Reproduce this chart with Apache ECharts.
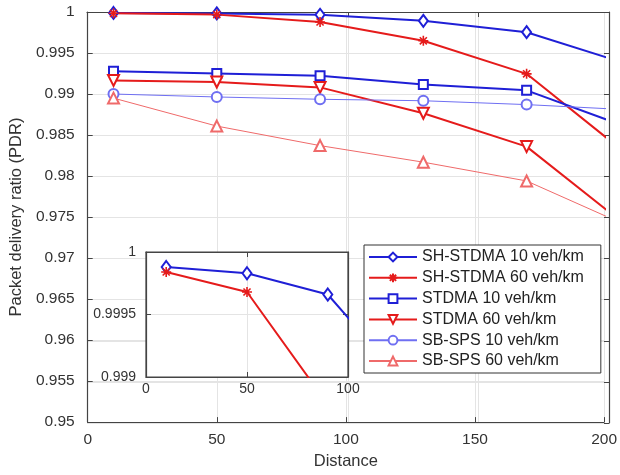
<!DOCTYPE html>
<html>
<head>
<meta charset="utf-8">
<script src="https://cdn.jsdelivr.net/npm/echarts@6/dist/echarts.min.js"></script>
<style>html,body{margin:0;padding:0;background:#fff}#c{width:620px;height:475px}</style>
</head>
<body>
<div id="c"></div>
<script>
const distance = [10, 50, 90, 130, 170, 210];
const shStdma10 = [0.99988, 0.99983, 0.99966, 0.99892, 0.99754, 0.99357];
const shStdma60 = [0.99984, 0.99968, 0.99878, 0.99649, 0.99246, 0.98238];
const stdma10 = [0.99278, 0.99250, 0.99222, 0.99117, 0.99045, 0.98585];
const stdma60 = [0.99166, 0.99146, 0.99081, 0.98766, 0.98359, 0.97360];
const sbSps10 = [0.99000, 0.98964, 0.98936, 0.98918, 0.98871, 0.98807];
const sbSps60 = [0.98950, 0.98609, 0.98371, 0.98169, 0.97940, 0.97380];
const seriesNames = ['SH-STDMA 10 veh/km', 'SH-STDMA 60 veh/km', 'STDMA 10 veh/km', 'STDMA 60 veh/km', 'SB-SPS 10 veh/km', 'SB-SPS 60 veh/km'];

const BLUE = '#1f1fd6', RED = '#e51b1b', LBLUE = '#6f6ff2', LRED = '#ef6a6a';
const AX = '#444444', GRIDC = '#e4e4e4', TXT = '#333333';
const FONT = 'Liberation Sans';
const STAR = 'path://M0,-10L0,10M-10,0L10,0M-7.07,-7.07L7.07,7.07M-7.07,7.07L7.07,-7.07';

function pairs(ys) { return distance.map((x, i) => [x, ys[i]]); }
function fmt(v) { return String(+v.toFixed(4)); }

const specs = [
  {ys: shStdma10, color: BLUE, w: 2, sym: 'emptyDiamond', size: [9, 12], rot: 0},
  {ys: shStdma60, color: RED, w: 2, sym: STAR, size: 10, rot: 0, star: true},
  {ys: stdma10, color: BLUE, w: 2, sym: 'emptyRect', size: 9, rot: 0},
  {ys: stdma60, color: RED, w: 2, sym: 'emptyTriangle', size: 11, rot: 180},
  {ys: sbSps10, color: LBLUE, w: 1, sym: 'emptyCircle', size: 10, rot: 0},
  {ys: sbSps60, color: LRED, w: 1, sym: 'emptyTriangle', size: 11, rot: 0}
];

function mkSeries(s, i, xi, yi, z) {
  return {
    name: seriesNames[i], type: 'line', xAxisIndex: xi, yAxisIndex: yi,
    data: pairs(s.ys), clip: true, z: z,
    symbol: s.sym, symbolSize: s.size, symbolRotate: s.rot, showAllSymbol: true,
    lineStyle: {color: s.color, width: s.w},
    itemStyle: s.star ? {color: s.color, borderColor: s.color, borderWidth: 1.6}
                      : {color: s.color, borderColor: s.color, borderWidth: 1.5},
    emphasis: {disabled: true}, animation: false
  };
}

const series = specs.map((s, i) => mkSeries(s, i, 0, 0, 2));
series.push(mkSeries(specs[0], 0, 2, 2, 12));
series.push(mkSeries(specs[1], 1, 2, 2, 12));

function xAx(grid, min, max, interval, pos, showLabel, z, fs, margin, name) {
  return {
    type: 'value', gridIndex: grid, min: min, max: max, interval: interval, position: pos, z: z,
    name: name || '', nameLocation: 'middle', nameGap: 30,
    nameTextStyle: {color: TXT, fontFamily: FONT, fontSize: 16.5},
    axisLine: {show: true, onZero: false, lineStyle: {color: AX, width: 1.2}},
    axisTick: {show: true, inside: true, length: 5, lineStyle: {color: AX}},
    axisLabel: {show: showLabel, margin: margin, color: TXT, fontFamily: FONT, fontSize: fs},
    splitLine: {show: true, lineStyle: {color: GRIDC, width: 1}}
  };
}
function yAx(grid, min, max, interval, pos, showLabel, z, fs, margin, name) {
  return {
    type: 'value', gridIndex: grid, min: min, max: max, interval: interval, position: pos, z: z,
    name: name || '', nameLocation: 'middle', nameGap: 56,
    nameTextStyle: {color: TXT, fontFamily: FONT, fontSize: 16.5},
    axisLine: {show: true, onZero: false, lineStyle: {color: AX, width: 1.2}},
    axisTick: {show: true, inside: true, length: 5, lineStyle: {color: AX}},
    axisLabel: {show: showLabel, margin: margin, formatter: fmt, color: TXT, fontFamily: FONT, fontSize: fs},
    splitLine: {show: true, lineStyle: {color: GRIDC, width: 1}}
  };
}

const option = {
  backgroundColor: '#ffffff',
  animation: false,
  grid: [
    {left: 87, right: 11, top: 12, bottom: 52, show: false},
    {left: 87, right: 11, top: 12, bottom: 52, show: false},
    {left: 146, right: 272, top: 252, bottom: 98, show: true, backgroundColor: '#ffffff',
     borderWidth: 1.2, borderColor: AX, z: 8}
  ],
  xAxis: [
    xAx(0, 0, 200, 50, 'bottom', true, 1, 15.5, 10, 'Distance'),
    xAx(1, 0, 200, 50, 'top', false, 1, 15.5, 10),
    xAx(2, 0, 100, 50, 'bottom', true, 10, 14, 5),
    xAx(2, 0, 100, 50, 'top', false, 10, 14, 5)
  ],
  yAxis: [
    yAx(0, 0.95, 1, 0.005, 'left', true, 1, 15.5, 13, 'Packet delivery ratio (PDR)'),
    yAx(1, 0.95, 1, 0.005, 'right', false, 1, 15.5, 13),
    yAx(2, 0.999, 1, 0.0005, 'left', true, 10, 14, 10),
    yAx(2, 0.999, 1, 0.0005, 'right', false, 10, 14, 10)
  ],
  legend: {
    data: seriesNames, orient: 'vertical', left: 364, top: 245,
    backgroundColor: '#ffffff', borderColor: '#333333', borderWidth: 1,
    padding: [4, 17, 4, 4], itemWidth: 48, itemHeight: 11, itemGap: 4.8, z: 20,
    textStyle: {color: '#222222', fontFamily: FONT, fontSize: 16}
  },
  series: series
};

const chart = echarts.init(document.getElementById('c'), null, {renderer: 'canvas'});
chart.setOption(option);
</script>
</body>
</html>
